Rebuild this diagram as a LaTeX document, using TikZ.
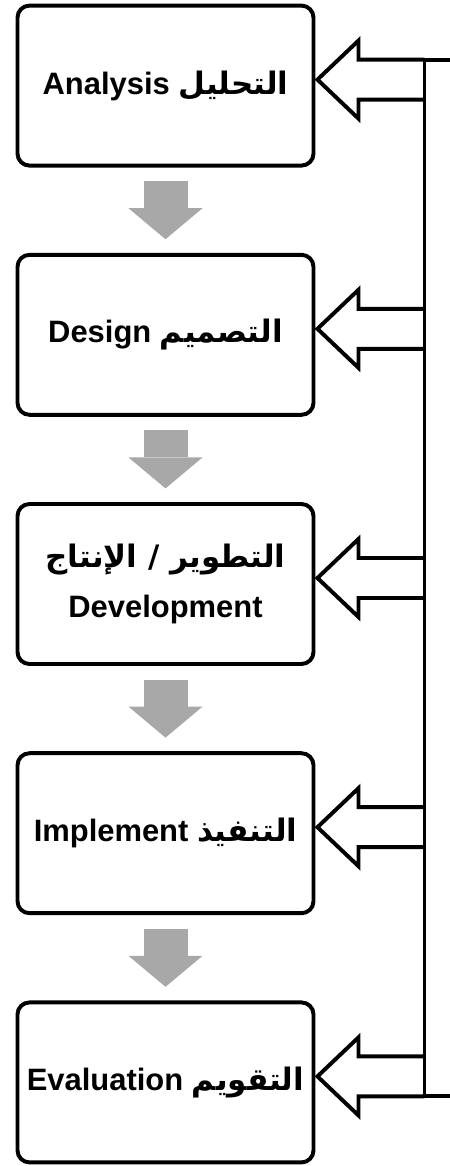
\documentclass[tikz,border=0pt]{standalone}
\usepackage{fontspec}
\setmainfont{Liberation Sans}
\newfontfamily\arabicfont[Script=Arabic]{DejaVu Sans}
\TeXXeTstate=1
\usetikzlibrary{arrows.meta, positioning, calc}
\definecolor{flowgray}{RGB}{168,168,168}

\begin{document}
\begin{tikzpicture}[
    font=\fontsize{22}{36}\selectfont\bfseries,
    stage/.style={draw=black, fill=white, rounded corners=0.3cm, minimum width=7.4cm, minimum height=4cm, align=center, line width=2.8pt},
    flow/.style={draw=flowgray, line width=1.1cm, shorten <=0.34cm, shorten >=0.34cm, -{Triangle[length=0.775cm, width=1.85cm, line width=0pt]}},
    back/.style={draw=black, line width=2.8pt, line join=miter},
    fback/.pic={\draw[back] (2.675,-0.5) -- (1.025,-0.5) -- (1.025,-0.975) -- (0,0) -- (1.025,0.975) -- (1.025,0.5) -- (2.675,0.5);}
  ]
    \useasboundingbox (0,0) rectangle (11.225,-29.15);

    % Stage Boxes
    \node[stage] (an) at (4.1375, -2.14) {Analysis {\arabicfont\beginR التحليل\endR}};
    \node[stage] (de) at (4.1375, -8.37) {Design {\arabicfont\beginR التصميم\endR}};
    \node[stage] (dv) at (4.1375, -14.6) {{\arabicfont\beginR التطوير / الإنتاج\endR}\\Development};
    \node[stage] (im) at (4.1375, -20.83) {Implement {\arabicfont\beginR التنفيذ\endR}};
    \node[stage] (ev) at (4.1375, -27.06) {Evaluation {\arabicfont\beginR التقويم\endR}};

    % Flow arrows between stages
    \draw[flow] (an) -- (de);
    \draw[flow] (de) -- (dv);
    \draw[flow] (dv) -- (im);
    \draw[flow] (im) -- (ev);

    % Feedback arrows into each stage
    \pic at ($(an.east)+(0.05,0.15)$) {fback};
    \pic at ($(de.east)+(0.05,0.15)$) {fback};
    \pic at ($(dv.east)+(0.05,0.15)$) {fback};
    \pic at ($(im.east)+(0.05,0.15)$) {fback};
    \pic at ($(ev.east)+(0.05,0.15)$) {fback};

    % Feedback rail
    \coordinate (r_an) at ($(an.east)+(2.725,0.65)$);
    \coordinate (r_ev) at ($(ev.east)+(2.725,-0.35)$);
    \draw[back] ($(r_an)+(0.7,0)$) -- (r_an) -- (r_ev) -- ($(r_ev)+(0.7,0)$);
  \end{tikzpicture}
\end{document}
